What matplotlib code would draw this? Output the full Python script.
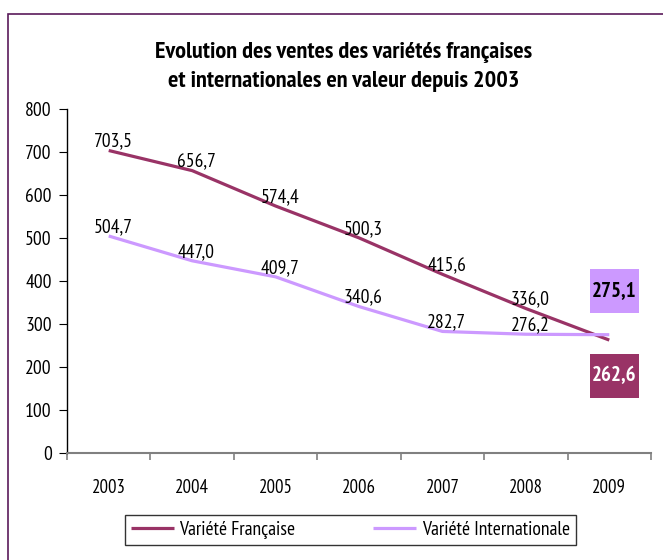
import matplotlib
matplotlib.use("Agg")
import matplotlib.pyplot as plt
from matplotlib.patches import Rectangle

plt.rcParams['font.family'] = ['PT Sans Narrow', 'DejaVu Sans']

years = ["2003", "2004", "2005", "2006", "2007", "2008", "2009"]
francaise = [703.5, 656.7, 574.4, 500.3, 415.6, 336.0, 262.6]
internationale = [504.7, 447.0, 409.7, 340.6, 282.7, 276.2, 275.1]
series_names = ["Variété Française", "Variété Internationale"]
title = "Evolution des ventes des variétés françaises\net internationales en valeur depuis 2003"

C_FR = "#993366"
C_INT = "#CC99FF"

W, H = 663, 560
fig = plt.figure(figsize=(W/100, H/100), dpi=100)
ax = fig.add_axes([67/W, 1-453/H, (651-67)/W, (453-109)/H])

x = list(range(len(years)))
ax.plot(x, francaise, color=C_FR, lw=2.3, label=series_names[0], solid_capstyle='butt')
ax.plot(x, internationale, color=C_INT, lw=2.3, label=series_names[1], solid_capstyle='butt')

ax.set_xlim(-0.5, len(years)-0.5)
ax.set_ylim(0, 800)
ax.set_yticks(range(0, 801, 100))
ax.set_xticks(x)
ax.set_xticklabels(years)
ax.set_xticks([i-0.5 for i in range(len(years)+1)], minor=True)
ax.tick_params(axis='x', which='major', length=0, pad=19, labelsize=13.5)
ax.tick_params(axis='x', which='minor', length=5, direction='out', color='#808080', width=1.2)
ax.tick_params(axis='y', length=6, direction='out', labelsize=14, pad=5)
for s in ['top', 'right']:
    ax.spines[s].set_visible(False)
ax.spines['left'].set_color('#000000')
ax.spines['bottom'].set_color('#808080')
ax.spines['left'].set_linewidth(1)
ax.spines['bottom'].set_linewidth(1.5)

def fmt(v):
    return f"{v:.1f}".replace('.', ',')

for i in range(len(years)-1):
    ax.annotate(fmt(francaise[i]), (x[i], francaise[i]), xytext=(3, 0),
                textcoords='offset points', ha='center', va='bottom', fontsize=14)
    ax.annotate(fmt(internationale[i]), (x[i], internationale[i]), xytext=(3, 0),
                textcoords='offset points', ha='center', va='bottom', fontsize=14)

last = len(years)-1
for val, yc, fc, tc in [(internationale[last], 291, C_INT, 'black'),
                        (francaise[last], 376, C_FR, 'white')]:
    fig.patches.append(Rectangle((590/W, 1-(yc+22)/H), 49/W, 44/H,
                                 transform=fig.transFigure, fc=fc, ec='none'))
    fig.text(614.5/W, 1-yc/H, fmt(val), ha='center', va='center',
             fontsize=15, fontweight='bold', color=tc)

fig.text(344/W, 1-67/H, title, ha='center', va='center', fontsize=17.5,
         fontweight='bold', linespacing=1.45)

# outer frame
fig.patches.append(Rectangle((8/W, -0.1), 1.2, 1-14/H+0.1, transform=fig.transFigure,
                             fill=False, ec='#5a1a5a', lw=1.2))

leg = fig.legend(loc='center', bbox_to_anchor=(350.5/W, 1-530/H), ncol=2, frameon=True,
                 fancybox=False, edgecolor='black', fontsize=14, handlelength=2.2,
                 columnspacing=4, borderpad=0.3, handletextpad=0.3)
leg.get_frame().set_linewidth(1)

fig.savefig("out.png", dpi=100)
